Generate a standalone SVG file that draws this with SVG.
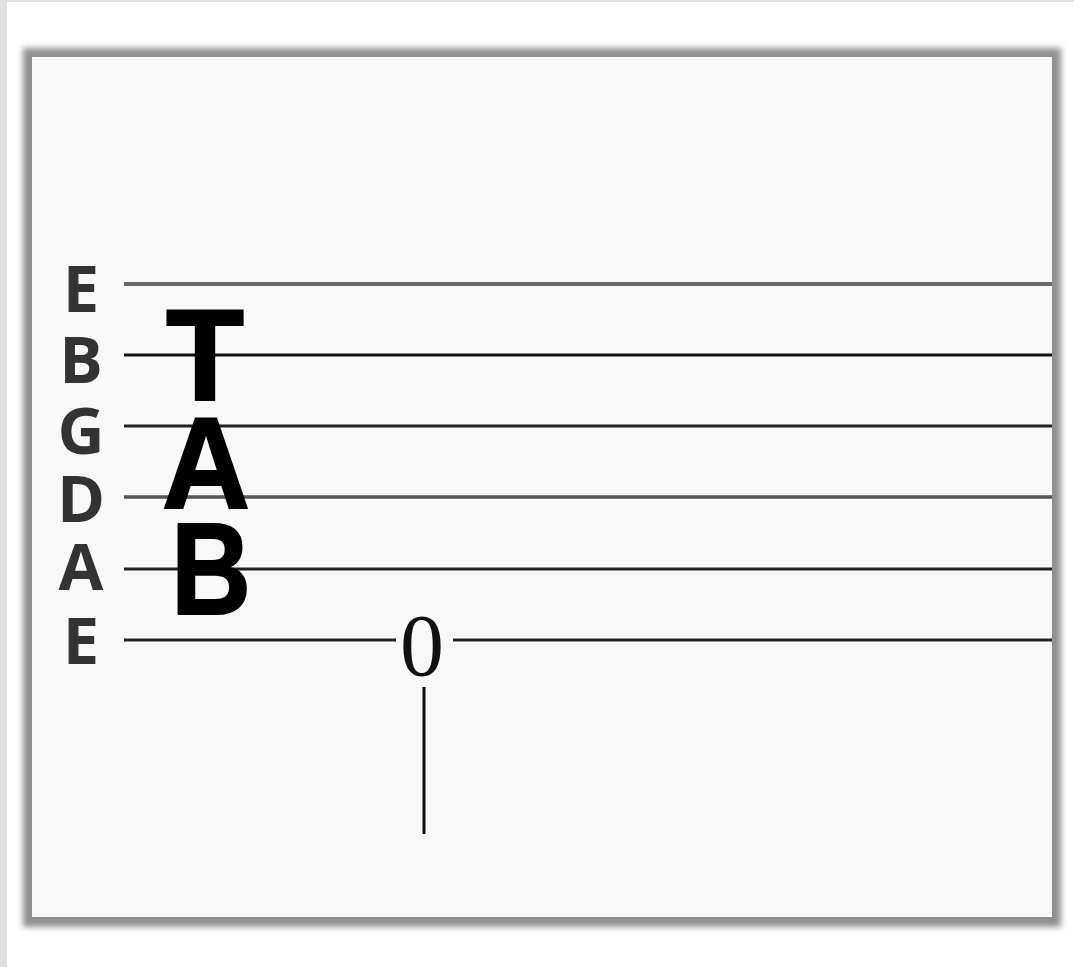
<svg xmlns="http://www.w3.org/2000/svg" width="1074" height="967" viewBox="0 0 1074 967">
<defs>
<filter id="sh" x="-5%" y="-5%" width="110%" height="110%"><feGaussianBlur stdDeviation="3"/></filter>
<style>
.str{stroke:#222;stroke-width:3;fill:none}
.lbl{font-family:"Open Sans","Liberation Sans",sans-serif;font-weight:bold;font-size:65px;fill:#333;text-anchor:middle}
.tab{font-family:"Liberation Sans",Arial,sans-serif;font-weight:bold;font-size:130px;fill:#000;stroke:#000;stroke-width:2;text-anchor:middle}
</style>
</defs>
<rect x="0" y="0" width="1074" height="967" fill="#e0e0e0"/>
<rect x="7" y="2" width="1067" height="965" fill="#ffffff"/>
<rect x="23" y="48" width="1038" height="879" fill="#8f8f8f" filter="url(#sh)"/>
<rect x="32" y="57" width="1020" height="860" fill="#f8f8f8"/>
<g id="strings">
<line class="str" x1="124" y1="284" x2="1052" y2="284" style="stroke:#6a6a6a;stroke-width:4"/>
<line class="str" x1="124" y1="355" x2="1052" y2="355" style="stroke:#111"/>
<line class="str" x1="124" y1="426" x2="1052" y2="426"/>
<line class="str" x1="124" y1="497" x2="1052" y2="497" style="stroke:#555;stroke-width:3.5"/>
<line class="str" x1="124" y1="569" x2="1052" y2="569"/>
<line class="str" x1="124" y1="640" x2="396" y2="640"/>
<line class="str" x1="453" y1="640" x2="1052" y2="640"/>
</g>
<g id="labels">
<text class="lbl" x="81" y="312">E</text>
<text class="lbl" x="81" y="383">B</text>
<text class="lbl" x="81" y="454">G</text>
<text class="lbl" x="81" y="522">D</text>
<text class="lbl" x="81" y="590">A</text>
<text class="lbl" x="81" y="664">E</text>
</g>
<g id="tab">
<text class="tab" x="205" y="400" textLength="78" lengthAdjust="spacingAndGlyphs">T</text>
<text class="tab" x="206" y="508" textLength="88" lengthAdjust="spacingAndGlyphs">A</text>
<text class="tab" x="211" y="614" textLength="80" lengthAdjust="spacingAndGlyphs">B</text>
</g>
<g id="note">
<text x="422" y="675" font-family="Liberation Serif,serif" font-size="88" fill="#111" text-anchor="middle">0</text>
<line x1="424" y1="687" x2="424" y2="834" stroke="#111" stroke-width="3"/>
</g>
</svg>
